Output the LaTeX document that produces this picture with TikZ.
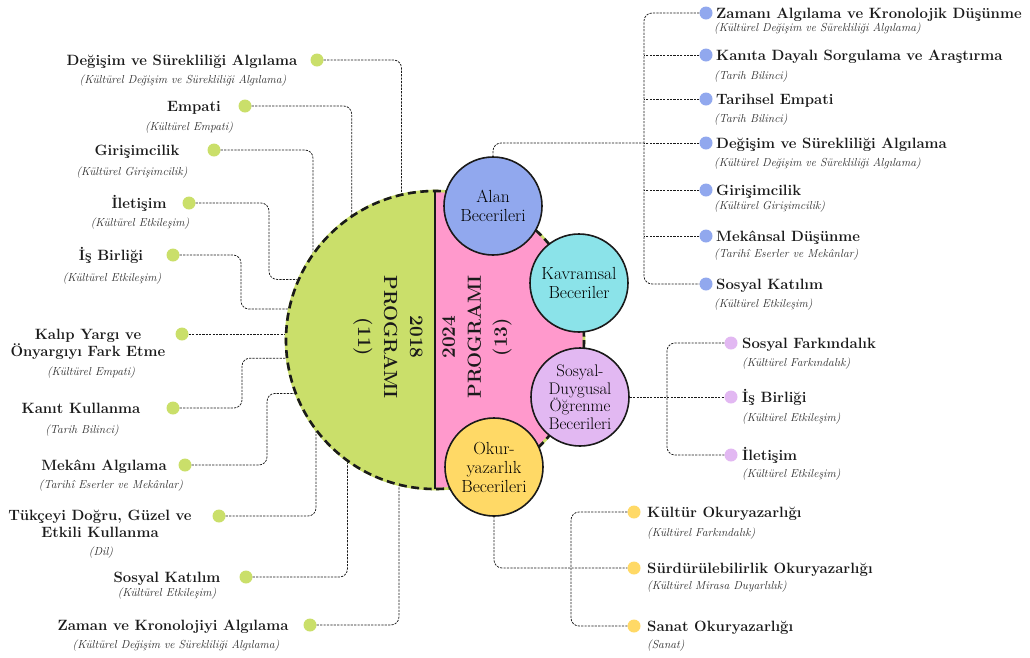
\documentclass[tikz,border=0pt]{standalone}
\usepackage{fontspec}
\definecolor{cgreen}{HTML}{CADF6A}
\definecolor{cpink}{HTML}{FF99CC}
\definecolor{cblue}{HTML}{91A8EE}
\definecolor{ccyan}{HTML}{8BE3E9}
\definecolor{clav}{HTML}{E2B8F2}
\definecolor{cyel}{HTML}{FFD966}
\definecolor{ink}{HTML}{1A1A1A}
\tikzset{
  lab/.style={font=\fontsize{14.9}{17}\selectfont\bfseries, inner sep=0pt, text=ink, align=center},
  sublab/.style={font=\fontsize{11.6}{13}\selectfont\itshape, inner sep=0pt, text=ink!92},
  dotnode/.style={circle, inner sep=0pt, minimum size=13pt, fill=#1},
  conn/.style={draw=ink, line width=0.75pt, dash pattern=on 2.2pt off 1.2pt, rounded corners=8pt},
  skill/.style={circle, draw=ink, line width=1.6pt, minimum size=98pt, inner sep=0pt, align=center, font=\fontsize{17.5}{19}\selectfont, text=black, fill=#1},
  prog/.style={font=\fontsize{19}{26}\selectfont\bfseries, align=center, inner sep=0pt, text=ink},
}
\begin{document}
\begin{tikzpicture}[x=1pt,y=-1pt]
\useasboundingbox (0,0) rectangle (1030,657);
\node[circle, minimum size=298pt, inner sep=0pt, outer sep=0pt] (big) at (435,340) {};

% ---------- left (2018) dots ----------
\node[dotnode=cgreen] (g1) at (317,60) {};
\node[dotnode=cgreen] (g2) at (245,106) {};
\node[dotnode=cgreen] (g3) at (214,150) {};
\node[dotnode=cgreen] (g4) at (189,203) {};
\node[dotnode=cgreen] (g5) at (173,255) {};
\node[dotnode=cgreen] (g6) at (182,334) {};
\node[dotnode=cgreen] (g7) at (173,408) {};
\node[dotnode=cgreen] (g8) at (185,465) {};
\node[dotnode=cgreen] (g9) at (219,516) {};
\node[dotnode=cgreen] (g10) at (246,577) {};
\node[dotnode=cgreen] (g11) at (310,625) {};

\coordinate (k4) at (269,0);
\coordinate (k5) at (241,0);
\coordinate (k7) at (242,0);
\coordinate (k8) at (267,0);

\draw[conn] (g1) -| (big.103.6);
\draw[conn] (g2) -| (big.124.8);
\draw[conn] (g3) -| (big.145.0);
\draw[conn] (g4) -| (k4 |- big.156.3) -- (big.156.3);
\draw[conn] (g5) -| (k5 |- big.168.8) -- (big.168.8);
\draw[conn] (g6) -- (g6 -| big.177.7);
\draw[conn] (g7) -| (k7 |- big.187.3) -- (big.187.3);
\draw[conn] (g8) -| (k8 |- big.201.2) -- (big.201.2);
\draw[conn] (g9) -| (big.217.6);
\draw[conn] (g10) -| (big.234.3);
\draw[conn] (g11) -| (big.256.4);

% ---------- anchor nodes for the skill circles ----------
\node[circle, minimum size=98pt, inner sep=0pt] (alan) at (493,206) {};
\node[circle, minimum size=98pt, inner sep=0pt] (okur) at (494,467) {};

% ---------- right blue ----------
\node[dotnode=cblue] (b1) at (706,13) {};
\node[dotnode=cblue] (b2) at (706,55) {};
\node[dotnode=cblue] (b3) at (706,99) {};
\node[dotnode=cblue] (b4) at (706,143) {};
\node[dotnode=cblue] (b5) at (706,190) {};
\node[dotnode=cblue] (b6) at (706,236) {};
\node[dotnode=cblue] (b7) at (706,284) {};
\coordinate (tb) at (644,0);
\draw[conn] (b1) -| (tb |- b7) -- (b7);
\foreach \i in {2,...,6} { \draw[conn] (b\i) -- (tb |- b\i); }
\draw[conn] (alan.north) |- (tb |- b4);

% ---------- lavender ----------
\node[dotnode=clav] (s1) at (731,343) {};
\node[dotnode=clav] (s2) at (731,397) {};
\node[dotnode=clav] (s3) at (731,455) {};
\coordinate (tl) at (667,0);
\draw[conn] (s1) -| (tl |- s3) -- (s3);

% ---------- yellow ----------
\node[dotnode=cyel] (y1) at (634,512) {};
\node[dotnode=cyel] (y2) at (634,568) {};
\node[dotnode=cyel] (y3) at (634,626) {};
\coordinate (ty) at (571,0);
\draw[conn] (y1) -| (ty |- y3) -- (y3);
\draw[conn] (okur.south) |- (y2);

% ---------- big circle ----------
\begin{scope}
\clip (big.north) rectangle ([xshift=-160pt]big.south);
\fill[cgreen] (big.center) circle[radius=149];
\end{scope}
\begin{scope}
\clip (big.north) rectangle ([xshift=160pt]big.south);
\fill[cpink] (big.center) circle[radius=149];
\end{scope}
\draw[cgreen, line width=2.6pt] (big.center) circle[radius=149];
\draw[ink, line width=2.6pt, dash pattern=on 8pt off 4.5pt] (big.center) circle[radius=149];
\draw[ink, line width=2pt] (big.north) -- (big.south);

\node[prog, rotate=-90] (p18) at (388,337) {2018\\PROGRAMI\\(11)};
\node[prog, rotate=90] (p24) at (477,337) {2024\\PROGRAMI\\(13)};

% skill circles drawn on top
\node[skill=cblue] (alanc) at (alan) {Alan\\Becerileri};
\node[skill=ccyan] (kavram) at (579,283) {Kavramsal\\Beceriler};
\node[skill=clav, font=\fontsize{16.8}{17.5}\selectfont] (sosyal) at (580,397) {Sosyal-\\Duygusal\\Öğrenme\\Becerileri};
\node[skill=cyel] (okurc) at (okur) {Okur-\\yazarlık\\Becerileri};
\draw[conn] (sosyal.east) -- (s2);

% ---------- left labels ----------
\node[lab, anchor=base] (gl1) at (182,65) {Değişim ve Sürekliliği Algılama};
\node[sublab, anchor=base] (gs1) at (183,83.5) {(Kültürel Değişim ve Sürekliliği Algılama)};
\node[lab, anchor=base] (gl2) at (194,111) {Empati};
\node[sublab, anchor=base] (gs2) at (189,130.5) {(Kültürel Empati)};
\node[lab, anchor=base] (gl3) at (137,155) {Girişimcilik};
\node[sublab, anchor=base] (gs3) at (132,175.5) {(Kültürel Girişimcilik)};
\node[lab, anchor=base] (gl4) at (139,208) {İletişim};
\node[sublab, anchor=base] (gs4) at (140,226.5) {(Kültürel Etkileşim)};
\node[lab, anchor=base] (gl5) at (111,260) {İş Birliği};
\node[sublab, anchor=base] (gs5) at (112,281.5) {(Kültürel Etkileşim)};
\node[lab, anchor=center] (gl6) at (88,344) {Kalıp Yargı ve\\Önyargıyı Fark Etme};
\node[sublab, anchor=base] (gs6) at (91,375.5) {(Kültürel Empati)};
\node[lab, anchor=base] (gl7) at (81,413) {Kanıt Kullanma};
\node[sublab, anchor=base] (gs7) at (82,433.5) {(Tarih Bilinci)};
\node[lab, anchor=base] (gl8) at (104,470) {Mekânı Algılama};
\node[sublab, anchor=base] (gs8) at (111,488.5) {(Tarihî Eserler ve Mekânlar)};
\node[lab, anchor=center] (gl9) at (100,524) {Tükçeyi Doğru, Güzel ve\\Etkili Kullanma};
\node[sublab, anchor=base] (gs9) at (101,555.5) {(Dil)};
\node[lab, anchor=base] (gl10) at (167,582) {Sosyal Katılım};
\node[sublab, anchor=base] (gs10) at (167,596.5) {(Kültürel Etkileşim)};
\node[lab, anchor=base] (gl11) at (173,630) {Zaman ve Kronolojiyi Algılama};
\node[sublab, anchor=base] (gs11) at (176,648.5) {(Kültürel Değişim ve Sürekliliği Algılama)};

% ---------- right blue labels ----------
\node[lab, anchor=base west] (bl1) at (716,18) {Zamanı Algılama ve Kronolojik Düşünme};
\node[sublab, anchor=base west] (bs1) at (714,31.5) {(Kültürel Değişim ve Sürekliliği Algılama)};
\node[lab, anchor=base west] (bl2) at (716,60) {Kanıta Dayalı Sorgulama ve Araştırma};
\node[sublab, anchor=base west] (bs2) at (714,79.5) {(Tarih Bilinci)};
\node[lab, anchor=base west] (bl3) at (716,104) {Tarihsel Empati};
\node[sublab, anchor=base west] (bs3) at (714,122.5) {(Tarih Bilinci)};
\node[lab, anchor=base west] (bl4) at (716,148) {Değişim ve Sürekliliği Algılama};
\node[sublab, anchor=base west] (bs4) at (714,166.5) {(Kültürel Değişim ve Sürekliliği Algılama)};
\node[lab, anchor=base west] (bl5) at (716,195) {Girişimcilik};
\node[sublab, anchor=base west] (bs5) at (714,209.5) {(Kültürel Girişimcilik)};
\node[lab, anchor=base west] (bl6) at (716,241) {Mekânsal Düşünme};
\node[sublab, anchor=base west] (bs6) at (714,257.5) {(Tarihî Eserler ve Mekânlar)};
\node[lab, anchor=base west] (bl7) at (716,289) {Sosyal Katılım};
\node[sublab, anchor=base west] (bs7) at (714,307.5) {(Kültürel Etkileşim)};

% ---------- lavender labels ----------
\node[lab, anchor=base west] (sl1) at (742,348) {Sosyal Farkındalık};
\node[sublab, anchor=base west] (ss1) at (742,366.5) {(Kültürel Farkındalık)};
\node[lab, anchor=base west] (sl2) at (742,402) {İş Birliği};
\node[sublab, anchor=base west] (ss2) at (742,421.5) {(Kültürel Etkileşim)};
\node[lab, anchor=base west] (sl3) at (742,460) {İletişim};
\node[sublab, anchor=base west] (ss3) at (742,477.5) {(Kültürel Etkileşim)};

% ---------- yellow labels ----------
\node[lab, anchor=base west] (yl1) at (647,517) {Kültür Okuryazarlığı};
\node[sublab, anchor=base west] (ys1) at (647,536.5) {(Kültürel Farkındalık)};
\node[lab, anchor=base west] (yl2) at (647,573) {Sürdürülebilirlik Okuryazarlığı};
\node[sublab, anchor=base west] (ys2) at (647,589.5) {(Kültürel Mirasa Duyarlılık)};
\node[lab, anchor=base west] (yl3) at (647,631) {Sanat Okuryazarlığı};
\node[sublab, anchor=base west] (ys3) at (647,648.5) {(Sanat)};
\end{tikzpicture}
\end{document}
